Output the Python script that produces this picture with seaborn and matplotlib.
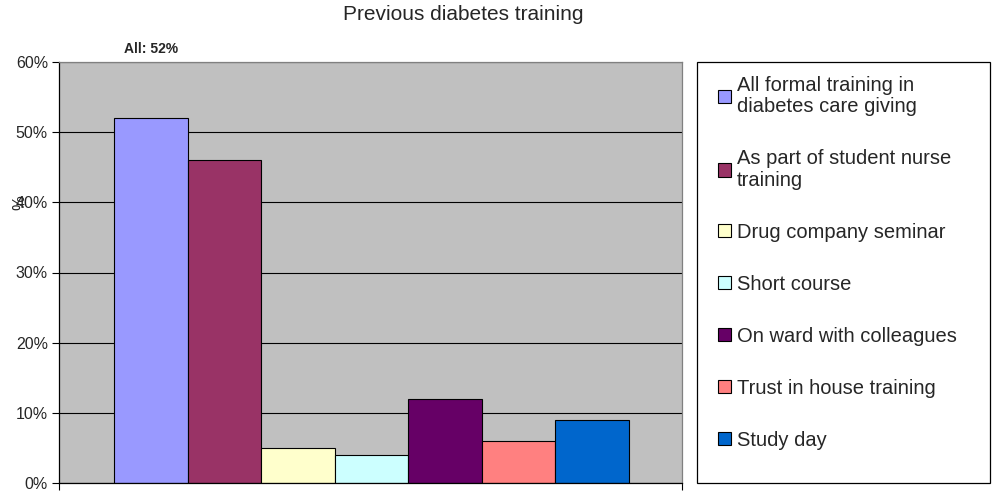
import matplotlib
matplotlib.use("Agg")
import matplotlib.pyplot as plt
import pandas as pd
import seaborn as sns
from matplotlib.patches import Rectangle

# Data
categories = [
    "All formal training in diabetes care giving",
    "As part of student nurse training",
    "Drug company seminar",
    "Short course",
    "On ward with colleagues",
    "Trust in house training",
    "Study day",
]
legend_labels = [
    "All formal training in\ndiabetes care giving",
    "As part of student nurse\ntraining",
    "Drug company seminar",
    "Short course",
    "On ward with colleagues",
    "Trust in house training",
    "Study day",
]
values = [52, 46, 5, 4, 12, 6, 9]
colors = ["#9999FF", "#993366", "#FFFFCC", "#CCFFFF", "#660066", "#FF8080", "#0066CC"]
yticks = [0, 10, 20, 30, 40, 50, 60]

df = pd.DataFrame({"category": categories, "value": values})

sns.set_style("white")
plt.rcParams["font.family"] = ["Liberation Sans", "DejaVu Sans"]

W, H = 995, 492
fig = plt.figure(figsize=(W / 100, H / 100), dpi=100)
ax = fig.add_axes([59 / W, 9 / H, 623 / W, 421 / H])
ax.set_facecolor("#C0C0C0")

sns.barplot(
    data=df, x="category", y="value", hue="category", palette=colors,
    saturation=1, width=1, edgecolor="black", linewidth=0.8, legend=True, ax=ax,
)

# Axes & grid
ax.set_ylim(0, 60)
ax.set_xlim(-0.5 - 0.748, 6.5 + 0.72)
ax.set_yticks(yticks)
ax.set_yticklabels([f"{t}%" for t in yticks], fontsize=11.5)
ax.set_xticks(ax.get_xlim())
ax.set_xticklabels([])
ax.set_xlabel("")
ax.tick_params(axis="both", direction="out", length=5, width=0.8, color="black",
               left=True, bottom=True, pad=3)
ax.yaxis.grid(True, color="black", linewidth=0.8)
ax.set_axisbelow(True)
for side in ["left", "bottom"]:
    ax.spines[side].set_color("black")
    ax.spines[side].set_linewidth(0.9)
for side in ["top", "right"]:
    ax.spines[side].set_color("#808080")
    ax.spines[side].set_linewidth(0.9)

ax.set_ylabel("%", fontsize=12, rotation=90)
ax.yaxis.set_label_coords(-0.051, 0.665)

# Annotation above first bar
ax.text(0, 61.85, "All: 52%", ha="center", va="center", fontsize=10,
        fontweight="bold", clip_on=False)

fig.suptitle("Previous diabetes training", x=463 / W, y=1 - 14 / H, va="center", fontsize=15)

# Legend box + entries
fig.patches.append(Rectangle((697 / W, 9 / H), 293 / W, 421 / H, transform=fig.transFigure,
                             facecolor="white", edgecolor="black", linewidth=0.9))
handles, _ = ax.get_legend_handles_labels()
ax.get_legend().remove()
leg = fig.legend(
    handles, legend_labels, loc="upper left",
    bbox_to_anchor=(718 / W, 1 - 76 / H), bbox_transform=fig.transFigure,
    fontsize=14.5, frameon=False,
    handlelength=0.65, handleheight=0.65, handletextpad=0.3,
    labelspacing=1.64, borderpad=0, borderaxespad=0,
)
for t in leg.get_texts():
    t.set_linespacing(1.15)

fig.savefig("out.png", dpi=100)
